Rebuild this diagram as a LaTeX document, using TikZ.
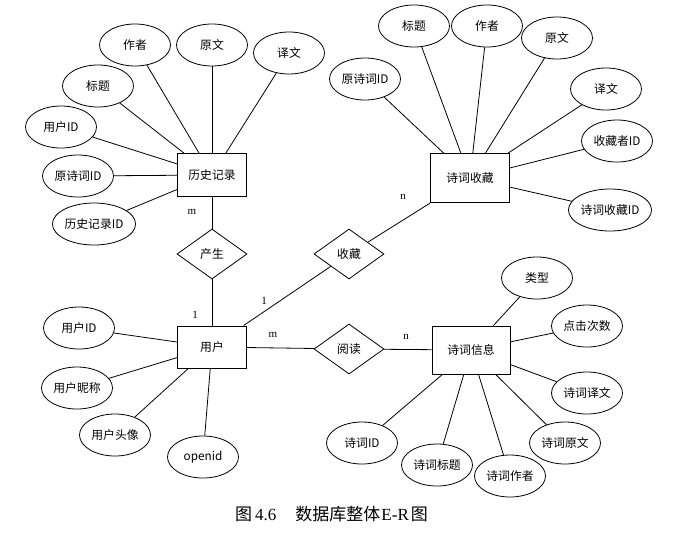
\documentclass[tikz,border=0pt]{standalone}
\usepackage{fontspec}
\setmainfont{Liberation Serif}
\newfontfamily\cjk{Noto Sans CJK SC}
\usetikzlibrary{shapes.geometric}
\begin{document}
\begin{tikzpicture}[x=1pt,y=-1pt,
  attr/.style={ellipse,draw,line width=0.8pt,minimum width=71pt,minimum height=42pt,inner sep=0pt,font=\cjk\fontsize{11.8}{13}\selectfont},
  ent/.style={rectangle,draw,line width=1pt,inner sep=0pt,font=\cjk\fontsize{11.8}{13}\selectfont},
  rel/.style={diamond,draw,line width=0.8pt,minimum width=70pt,minimum height=50pt,inner sep=0pt,font=\cjk\fontsize{11.8}{13}\selectfont},
  conn/.style={line width=0.8pt},
  card/.style={inner sep=0pt,font=\fontsize{11}{13}\selectfont}
]
\useasboundingbox[fill=white] (0,0) rectangle (684,544);

% entities
\node[ent,minimum width=69pt,minimum height=43pt] (hist) at (212,175) {历史记录};
\node[ent,minimum width=69pt,minimum height=42pt] (user) at (212,347) {用户};
\node[ent,minimum width=79pt,minimum height=49pt] (fav) at (470,178) {诗词收藏};
\node[ent,minimum width=78pt,minimum height=48pt] (poem) at (471,350) {诗词信息};

% relations
\node[rel] (gen) at (212,254) {产生};
\node[rel] (col) at (349,254) {收藏};
\node[rel] (read) at (349,349) {阅读};

% history attributes
\node[attr] (h1) at (135,45) {作者};
\node[attr] (h2) at (212,45) {原文};
\node[attr] (h3) at (289,53) {译文};
\node[attr] (h4) at (98,86) {标题};
\node[attr] (h5) at (61,127) {用户ID};
\node[attr] (h6) at (78,176) {原诗词ID};
\node[attr] (h7) at (94,224) {历史记录ID};

% favourite attributes
\node[attr] (f1) at (365,79) {原诗词ID};
\node[attr] (f2) at (414,26) {标题};
\node[attr] (f3) at (487,26) {作者};
\node[attr] (f4) at (557,38) {原文};
\node[attr] (f5) at (606,89) {译文};
\node[attr] (f6) at (617,141) {收藏者ID};
\node[attr] (f7) at (610,210) {诗词收藏ID};

% user attributes
\node[attr] (u1) at (79,328) {用户ID};
\node[attr] (u2) at (77,388) {用户昵称};
\node[attr] (u3) at (115,435) {用户头像};
\node[attr] (u4) at (203,457) {openid};

% poem attributes
\node[attr] (p1) at (537,278) {类型};
\node[attr] (p2) at (587,326) {点击次数};
\node[attr] (p3) at (587,393) {诗词译文};
\node[attr] (p4) at (565,443) {诗词原文};
\node[attr] (p5) at (510,476) {诗词作者};
\node[attr] (p6) at (437,465) {诗词标题};
\node[attr] (p7) at (362,443) {诗词ID};

% connectors
\foreach \a in {h1,h2,h3,h4,h5,h6,h7} \draw[conn] (\a) -- (hist);
\foreach \a in {f1,f2,f3,f4,f5,f6,f7} \draw[conn] (\a) -- (fav);
\foreach \a in {u1,u2,u3,u4} \draw[conn] (\a) -- (user);
\foreach \a in {p1,p2,p3,p4,p5,p6,p7} \draw[conn] (\a) -- (poem);
\draw[conn] (hist) -- (gen);
\draw[conn] (gen) -- (user);
\draw[conn] (user) -- (col);
\draw[conn] (col) -- (fav);
\draw[conn] (user) -- (read);
\draw[conn] (read) -- (poem);

% cardinalities
\node[card] (c1) at (192,212) {m};
\node[card] (c2) at (195,315) {1};
\node[card] (c3) at (264,301) {1};
\node[card] (c4) at (273,335) {m};
\node[card] (c5) at (403,197) {n};
\node[card] (c6) at (406,337) {n};

% caption
\node[anchor=west,inner sep=0pt,font=\fontsize{17}{20}\selectfont] (cap) at (235,514)
  {{\cjk 图}\hspace{3pt}4.6\hspace{19pt}{\cjk 数据库整体}\hspace{1pt}E-R\hspace{2pt}{\cjk 图}};
\end{tikzpicture}
\end{document}
